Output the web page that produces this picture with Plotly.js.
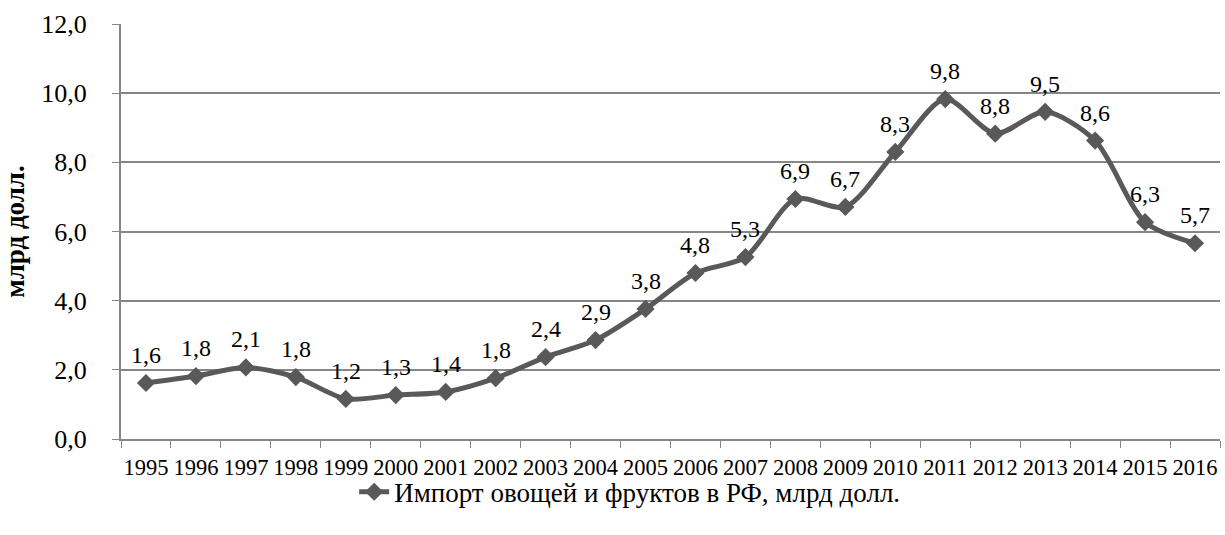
<!DOCTYPE html>
<html>
<head>
<meta charset="utf-8">
<script src="https://cdn.plot.ly/plotly-3.0.1.min.js"></script>
<style>html,body{margin:0;padding:0;background:#fff;}#chart{width:1225px;height:535px;}</style>
</head>
<body>
<div id="chart"></div>
<script>
const years = ['1995','1996','1997','1998','1999','2000','2001','2002','2003','2004','2005','2006','2007','2008','2009','2010','2011','2012','2013','2014','2015','2016'];
const importValues = [1.62, 1.82, 2.07, 1.79, 1.16, 1.27, 1.36, 1.76, 2.37, 2.86, 3.76, 4.80, 5.26, 6.94, 6.71, 8.30, 9.83, 8.83, 9.46, 8.63, 6.27, 5.66];
const yTicks = [0, 2, 4, 6, 8, 10, 12];
const seriesName = 'Импорт овощей и фруктов в РФ, млрд долл.';
const yTitle = 'млрд долл.';

const fmt = v => v.toFixed(1).replace('.', ',');
const col = '#595959';
const font = 'Liberation Serif';

const trace = {
  x: years, y: importValues, type: 'scatter', mode: 'lines+markers',
  name: seriesName,
  line: {color: col, width: 5, shape: 'spline', smoothing: 0.8},
  marker: {symbol: 'diamond', size: 14, color: col},
  hoverinfo: 'skip'
};

const annotations = years.map((yr, i) => ({
  x: i, y: importValues[i], xref: 'x', yref: 'y',
  text: fmt(importValues[i]), showarrow: false,
  yanchor: 'bottom', xanchor: 'center', yshift: 13,
  font: {family: font, size: 24, color: '#000'}
}));

const layout = {
  width: 1225, height: 535,
  margin: {l: 121, r: 5, t: 24, b: 96},
  paper_bgcolor: '#fff', plot_bgcolor: '#fff',
  font: {family: font, size: 22, color: '#000'},
  showlegend: true,
  legend: {orientation: 'h', xref: 'container', yref: 'container',
           x: 0.514, xanchor: 'center', y: 0.08, yanchor: 'middle',
           bgcolor: 'rgba(0,0,0,0)',
           font: {family: font, size: 27, color: '#000'}},
  xaxis: {type: 'category', categoryorder: 'array', categoryarray: years,
          range: [-0.5, years.length - 0.5], autorange: false,
          tickson: 'boundaries', ticks: 'outside', ticklen: 7, tickangle: 0,
          ticklabelstandoff: 7,
          tickcolor: '#868686', showline: true, linecolor: '#868686', linewidth: 2,
          showgrid: false, tickfont: {family: font, size: 22.5}},
  yaxis: {range: [0, 12], autorange: false, tickmode: 'array', tickvals: yTicks,
          ticktext: yTicks.map(fmt), ticks: 'outside', ticklen: 7,
          ticklabelstandoff: 20,
          tickcolor: '#868686', showline: true, linecolor: '#868686', linewidth: 2,
          gridcolor: '#868686', gridwidth: 2, zeroline: false,
          tickfont: {family: font, size: 26},
          title: {text: '<b>' + yTitle + '</b>', font: {family: font, size: 27}, standoff: 14}},
  annotations: annotations
};

Plotly.newPlot('chart', [trace], layout, {displayModeBar: false, staticPlot: true});
</script>
</body>
</html>
